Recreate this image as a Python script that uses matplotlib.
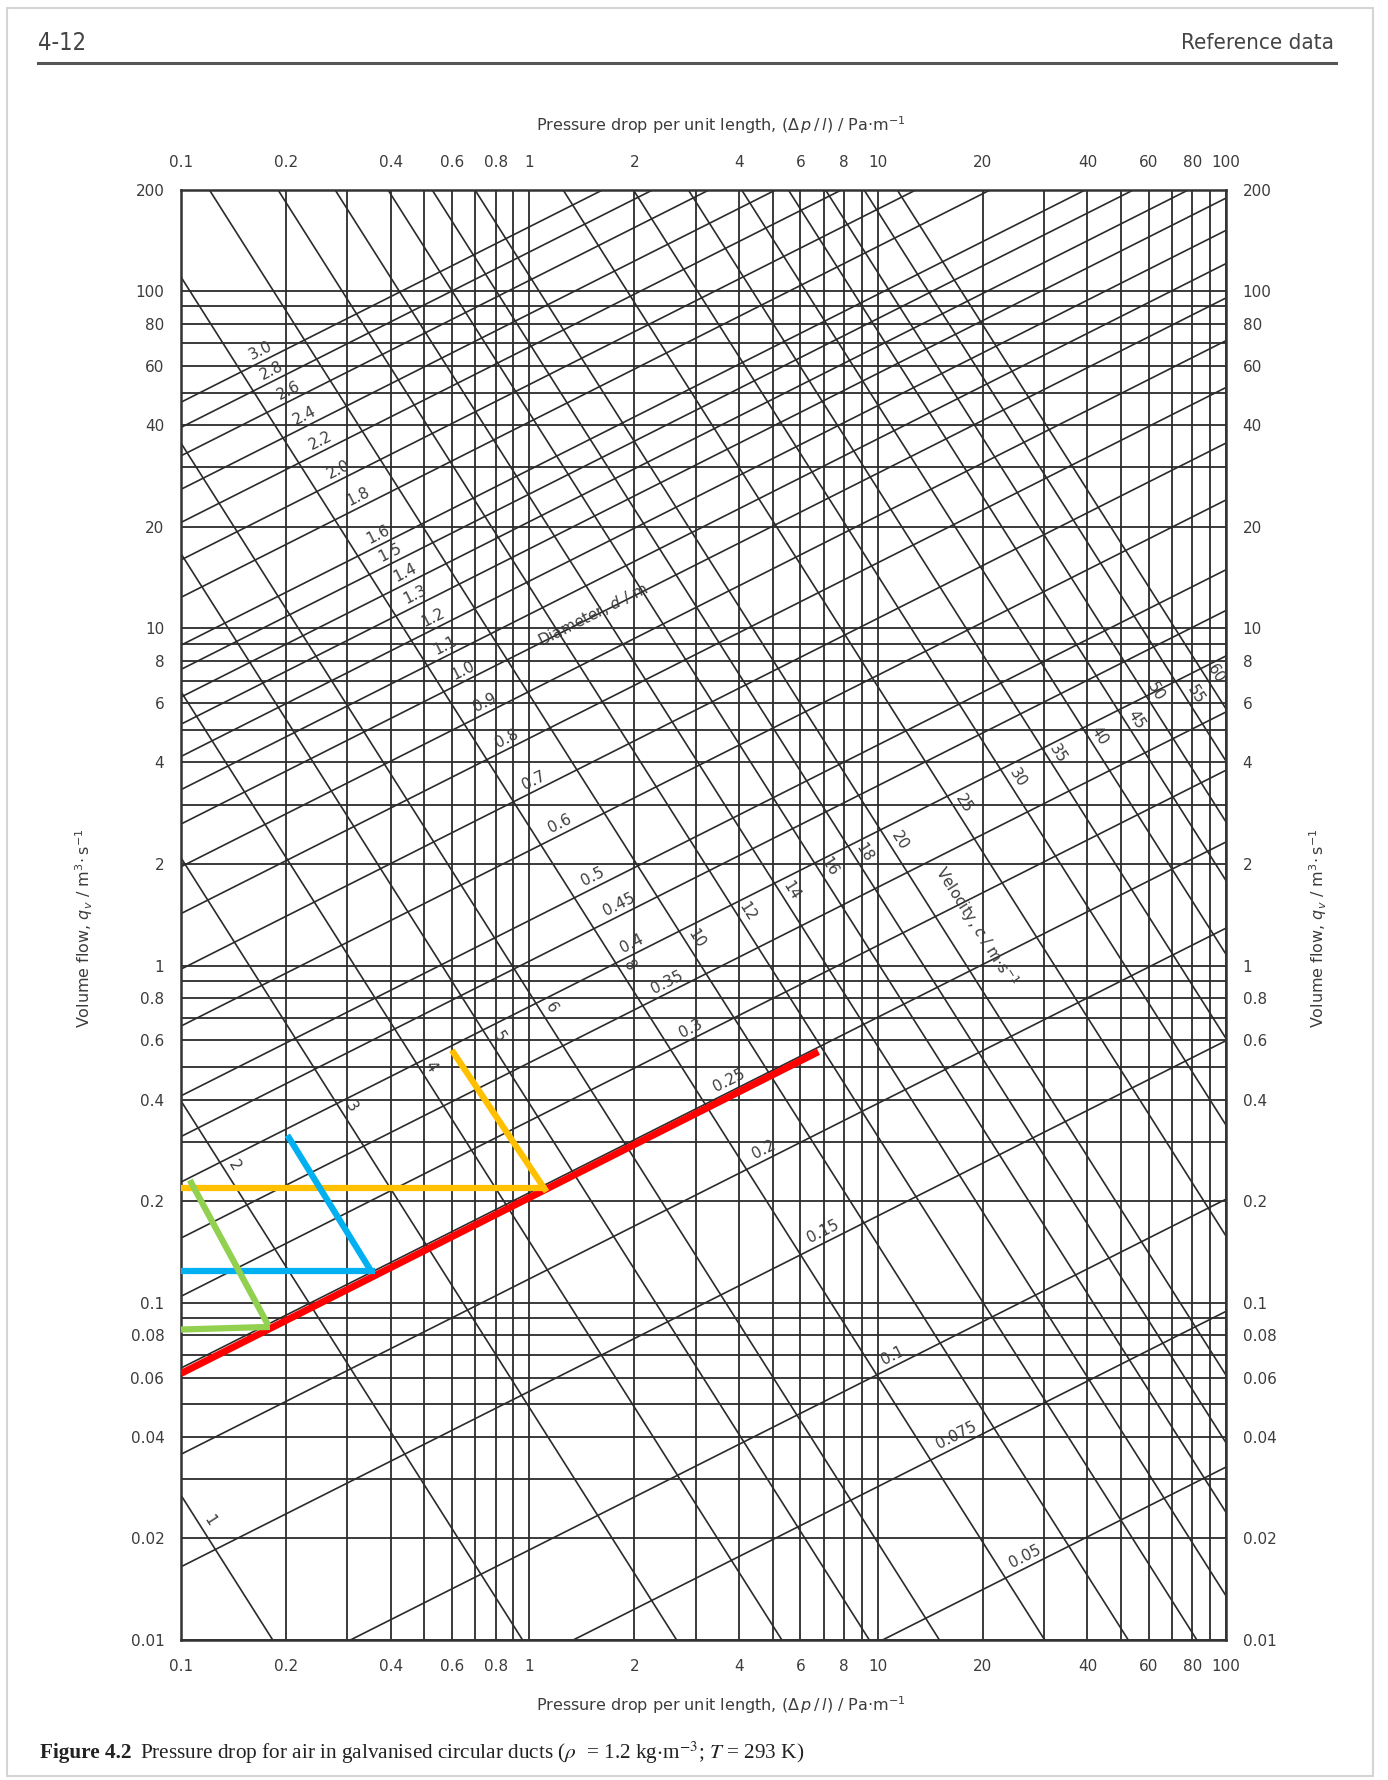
import numpy as np
import matplotlib
matplotlib.use("Agg")
import matplotlib.pyplot as plt
from matplotlib.ticker import LogLocator, FixedLocator, FixedFormatter, NullFormatter
from matplotlib.patches import Rectangle
from matplotlib.lines import Line2D

plt.rcParams['font.family'] = ['DejaVu Sans']

# tick values on the two log axes
x_ticks = [0.1, 0.2, 0.4, 0.6, 0.8, 1, 2, 4, 6, 8, 10, 20, 40, 60, 80, 100]
x_tick_labels = ["0.1", "0.2", "0.4", "0.6", "0.8", "1", "2", "4", "6", "8",
                 "10", "20", "40", "60", "80", "100"]
y_ticks = [0.01, 0.02, 0.04, 0.06, 0.08, 0.1, 0.2, 0.4, 0.6, 0.8, 1, 2, 4, 6, 8,
           10, 20, 40, 60, 80, 100, 200]
y_tick_labels = ["0.01", "0.02", "0.04", "0.06", "0.08", "0.1", "0.2", "0.4", "0.6",
                 "0.8", "1", "2", "4", "6", "8", "10", "20", "40", "60", "80", "100", "200"]

# diameter lines (m): flow in m3/s where each line meets 1 Pa/m
diam_labels = ["3.0", "2.8", "2.6", "2.4", "2.2", "2.0", "1.8", "1.6", "1.5", "1.4",
               "1.3", "1.2", "1.1", "1.0", "0.9", "0.8", "0.7", "0.6", "0.5", "0.45",
               "0.4", "0.35", "0.3", "0.25", "0.2", "0.15", "0.1", "0.075", "0.05"]
diam_q_1pa = [155, 130.5, 107.5, 85.5, 68.2, 52.8, 40.9, 29.5, 25.0, 20.7,
              17.2, 13.8, 11.0, 8.7, 6.5, 4.72, 3.23, 2.19, 1.36, 1.03,
              0.755, 0.515, 0.346, 0.212, 0.1177, 0.0546, 0.0185, 0.0086, 0.00297]
diam_exp = 0.52

# velocity lines (m/s): flow in m3/s where each line meets 1 Pa/m
vel_labels = ["1", "2", "3", "4", "5", "6", "8", "10", "12", "14", "16", "18", "20",
              "25", "30", "35", "40", "45", "50", "55", "60"]
vel_q_1pa = [6.3e-4, 0.0093, 0.0489, 0.152, 0.39, 0.83, 2.58, 6.35, 13.3, 24.6, 43.5,
             70.0, 111, 287, 612, 1106, 1965, 3250, 4850, 7350, 10500]
vel_exp = -1.63

# where the numbers sit along the lines (Pa/m)
diam_label_x = [0.175, 0.188, 0.210, 0.234, 0.259, 0.292, 0.333, 0.380, 0.411, 0.454,
                0.485, 0.547, 0.591, 0.667, 0.770, 0.888, 1.06, 1.26, 1.57, 1.86,
                2.03, 2.56, 2.99, 3.85, 4.85, 7.2, 11.4, 17.4, 27.3]
vel_label_x = [0.114, 0.134, 0.290, 0.493, 0.775, 1.09, 1.83, 2.84, 4.0, 5.33, 6.86,
               8.65, 10.9, 16.7, 23.9, 31.0, 40.9, 52.2, 59.4, 77.5, 88.5]

# hand drawn worked example lines
red_x, red_y = [0.1, 6.76], [0.0617, 0.555]
orange_h_x, orange_h_y = [0.1, 1.12], [0.219, 0.219]
orange_d_x, orange_d_y = [1.12, 0.599], [0.2135, 0.561]
blue_h_x, blue_h_y = [0.1, 0.361], [0.1243, 0.1243]
blue_d_x, blue_d_y = [0.351, 0.202], [0.1243, 0.314]
green_h_x, green_h_y = [0.1, 0.18], [0.0833, 0.0848]
green_d_x, green_d_y = [0.178, 0.106], [0.0858, 0.231]

W, H = 1388, 1780
line_c = '#2b2b2b'
text_c = '#3c3c3c'

fig = plt.figure(figsize=(W / 100, H / 100), dpi=100)
ax = fig.add_axes([181 / W, 1 - 1640 / H, 1045 / W, 1450.5 / H])
ax.set_xscale('log')
ax.set_yscale('log')
ax.set_xlim(0.1, 100)
ax.set_ylim(0.01, 200)

ax.xaxis.set_major_locator(FixedLocator(x_ticks))
ax.xaxis.set_major_formatter(FixedFormatter(x_tick_labels))
ax.yaxis.set_major_locator(FixedLocator(y_ticks))
ax.yaxis.set_major_formatter(FixedFormatter(y_tick_labels))
for a in (ax.xaxis, ax.yaxis):
    a.set_minor_locator(LogLocator(base=10, subs=np.arange(1, 10)))
    a.set_minor_formatter(NullFormatter())
ax.grid(True, which='both', color=line_c, lw=1.3)
ax.set_axisbelow(True)

ax.tick_params(which='both', length=0, labelsize=11, labelcolor=text_c,
               top=True, right=True, labeltop=True, labelright=True)
ax.tick_params(axis='x', pad=14)
ax.tick_params(axis='y', which='both', pad=12)
for s in ax.spines.values():
    s.set_linewidth(1.8)
    s.set_color('#333333')

xs = np.array([0.03, 300.0])
for q1 in diam_q_1pa:
    ax.plot(xs, q1 * xs ** diam_exp, color=line_c, lw=1.2)
for q1 in vel_q_1pa:
    ax.plot(xs, q1 * xs ** vel_exp, color=line_c, lw=1.2)


def screen_angle(exp):
    p0 = ax.transData.transform((1, 1))
    p1 = ax.transData.transform((10, 10 ** exp))
    return np.degrees(np.arctan2(p1[1] - p0[1], p1[0] - p0[0]))


ang_d = screen_angle(diam_exp)
ang_v = screen_angle(vel_exp)


def put_label(txt, x, q1, exp, ang):
    th = np.radians(ang)
    off = (-2.0 * np.sin(th), 2.0 * np.cos(th))
    ax.annotate(txt, (x, q1 * x ** exp), xytext=off, textcoords='offset points',
                rotation=ang, rotation_mode='anchor', ha='center', va='bottom',
                fontsize=11, color=text_c)


for txt, x, q1 in zip(diam_labels, diam_label_x, diam_q_1pa):
    put_label(txt, x, q1, diam_exp, ang_d)
for txt, x, q1 in zip(vel_labels, vel_label_x, vel_q_1pa):
    put_label(txt, x, q1, vel_exp, ang_v)

ax.text(1.52, 11.0, r"Diameter, $d$ / m", rotation=ang_d, rotation_mode='anchor',
        ha='center', va='center', fontsize=11, color=text_c, math_fontfamily='dejavusans')
ax.text(19.2, 1.30, r"Velocity, $c$ / m$\cdot$s$^{-1}$", rotation=ang_v,
        rotation_mode='anchor', ha='center', va='center', fontsize=11, color=text_c,
        math_fontfamily='dejavusans')

# worked example overlay
seg = dict(solid_capstyle='butt', zorder=5)
ax.plot(red_x, red_y, color='#ff0000', lw=5.0, **seg)
ax.plot(orange_h_x, orange_h_y, color='#ffc000', lw=4.5, **seg)
ax.plot(orange_d_x, orange_d_y, color='#ffc000', lw=4.5, **seg)
ax.plot(blue_h_x, blue_h_y, color='#00b0f0', lw=4.5, **seg)
ax.plot(blue_d_x, blue_d_y, color='#00b0f0', lw=4.5, **seg)
ax.plot(green_h_x, green_h_y, color='#92d050', lw=4.5, **seg)
ax.plot(green_d_x, green_d_y, color='#92d050', lw=4.5, **seg)

# axis titles
xlab = r"Pressure drop per unit length, ($\Delta\,p\,/\,l$) / Pa$\cdot$m$^{-1}$"
ylab = r"Volume flow, $q_v$ / m$^3\!\cdot$s$^{-1}$"
fig.text(721 / W, 1 - 125 / H, xlab, ha='center', va='center', fontsize=11.5,
         color=text_c, math_fontfamily='dejavusans')
fig.text(721 / W, 1 - 1705 / H, xlab, ha='center', va='center', fontsize=11.5,
         color=text_c, math_fontfamily='dejavusans')
fig.text(84 / W, 1 - 928 / H, ylab, ha='center', va='center', rotation=90,
         fontsize=11.5, color=text_c, math_fontfamily='dejavusans')
fig.text(1318 / W, 1 - 928 / H, ylab, ha='center', va='center', rotation=90,
         fontsize=11.5, color=text_c, math_fontfamily='dejavusans')

# page header
fig.text(38 / W, 1 - 43 / H, "4-12", ha='left', va='center', fontsize=17,
         color='#444444', fontstretch='condensed')
fig.text(1334 / W, 1 - 43 / H, "Reference data", ha='right', va='center',
         fontsize=16, color='#444444', fontstretch='condensed')
fig.add_artist(Line2D([38 / W, 1336 / W], [1 - 62.5 / H] * 2, lw=2.2, color='#555555'))
fig.add_artist(Rectangle((7 / W, 4 / H), 1366 / W, 1768 / H, transform=fig.transFigure,
                         fill=False, ec='#d4d4d4', lw=1.5))

# caption
cap1 = fig.text(40 / W, 1 - 1753 / H, "Figure 4.2", ha='left', va='center',
                fontsize=15.3, fontweight='bold', family='Liberation Serif', color='#222222')
fig.canvas.draw()
bb = cap1.get_window_extent()
fig.text((bb.x1 + 8) / W, 1 - 1753 / H,
         r"Pressure drop for air in galvanised circular ducts ($\rho$  = 1.2 kg$\cdot$m$^{-3}$; $T$ = 293 K)",
         ha='left', va='center', fontsize=15.3, family='Liberation Serif', color='#222222',
         math_fontfamily='stix')

fig.savefig("out.png", dpi=100)
